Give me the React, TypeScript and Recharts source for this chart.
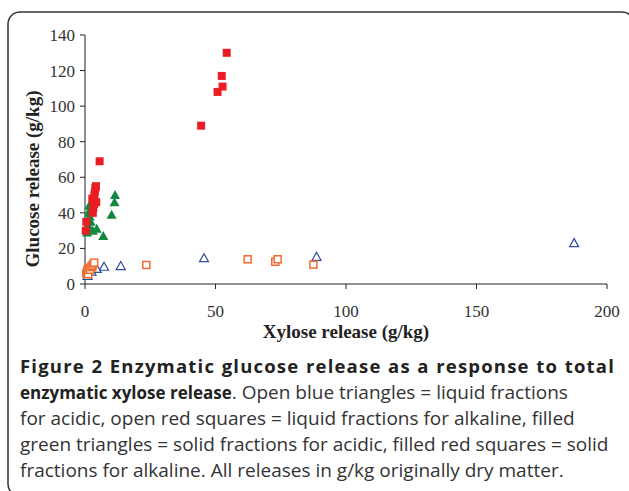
import { ScatterChart, Scatter, XAxis, YAxis } from 'recharts';

// liquid fractions, acidic (open blue triangles)
const liquidAcidX = [1, 2.5, 4.5, 7.3, 13.7, 45.6, 88.7, 187.4];
const liquidAcidY = [4.5, 7, 8.5, 9.7, 10.1, 14.5, 15.3, 23];

// liquid fractions, alkaline (open red squares)
const liquidAlkX = [0.5, 0.8, 1.2, 1, 1.5, 2, 2.8, 2.5, 3, 3.5, 23.5, 62.3, 72.9, 73.8, 87.5];
const liquidAlkY = [6, 7, 5.5, 8, 9, 8, 9.5, 10, 11, 12, 10.7, 13.9, 12.5, 13.9, 10.9];

// solid fractions, acidic (filled green triangles)
const solidAcidX = [0.8, 1, 1.2, 1.5, 1.8, 1.5, 2, 1.6, 2.2, 3, 4.5, 7, 10.2, 11.3, 11.5];
const solidAcidY = [29, 31, 33, 36, 38, 40, 42, 44, 35, 30, 31, 27, 39, 46, 50];

// solid fractions, alkaline (filled red squares)
const solidAlkX = [0.3, 0.5, 3, 3.2, 3.5, 2.8, 3.6, 4.3, 3.8, 4, 4.2, 5.6, 44.5, 50.8, 52.7, 52.4, 54.3];
const solidAlkY = [30, 35, 40, 43, 45, 48, 50, 46, 52, 54, 55, 69, 89, 108, 111, 117, 130];

const xTicks = [0, 50, 100, 150, 200];
const yTicks = [0, 20, 40, 60, 80, 100, 120, 140];

const toPoints = (xs: number[], ys: number[]) => xs.map((x, i) => ({ x, y: ys[i] }));

const BLUE = '#2f4b9c';
const ORANGE = '#f26a2e';
const GREEN = '#11873f';
const RED = '#ec1c24';

const OpenTriangle = ({ cx, cy }: any) => (
  <path d={`M${cx},${cy - 4.5} L${cx + 4.5},${cy + 3.5} L${cx - 4.5},${cy + 3.5} Z`} fill="#fff" stroke={BLUE} strokeWidth={1.2} />
);
const FilledTriangle = ({ cx, cy }: any) => (
  <path d={`M${cx},${cy - 5} L${cx + 5},${cy + 4} L${cx - 5},${cy + 4} Z`} fill={GREEN} />
);
const OpenSquare = ({ cx, cy }: any) => (
  <rect x={cx - 3.5} y={cy - 3.5} width={7} height={7} fill="#fff" stroke={ORANGE} strokeWidth={1.5} />
);
const FilledSquare = ({ cx, cy }: any) => (
  <rect x={cx - 4} y={cy - 4} width={8} height={8} fill={RED} />
);

const serif = '"Liberation Serif", serif';
const tickStyle = { fontFamily: serif, fontSize: 17, fill: '#333' };
const titleStyle = { fontFamily: serif, fontSize: 19, fontWeight: 'bold', fill: '#222' };

const YTitle = () => (
  <text x={32} y={179} transform="rotate(-90, 32, 179)" textAnchor="middle" dominantBaseline="central" style={titleStyle}>
    Glucose release (g/kg)
  </text>
);
const XTitle = ({ viewBox }: any) => (
  <text x={viewBox.x + viewBox.width / 2} y={331} textAnchor="middle" dominantBaseline="central" style={titleStyle}>
    Xylose release (g/kg)
  </text>
);

const captionLine = { whiteSpace: 'nowrap' as const, height: 26 };
const boldText = { fontWeight: 'bold' as const, fontSize: 17, color: '#222' };

export default function App() {
  return (
    <div style={{ position: 'absolute', left: 0, top: 0, width: 629, height: 491, overflow: 'hidden', background: '#fff' }}>
      <svg width={629} height={491} style={{ position: 'absolute', left: 0, top: 0 }}>
        <rect x={8} y={12} width={626} height={484} rx={12} fill="none" stroke="#333" strokeWidth={1.5} />
      </svg>
      <div style={{ position: 'absolute', left: 0, top: 0 }}>
        <ScatterChart width={629} height={345} margin={{ top: 35, right: 22, left: 0, bottom: 11 }}>
          <XAxis type="number" dataKey="x" domain={[0, 200]} ticks={xTicks} tick={tickStyle}
            stroke="#222" tickLine={{ stroke: '#222' }} tickSize={5} tickMargin={16} height={50}
            label={{ content: <XTitle /> }} />
          <YAxis type="number" dataKey="y" domain={[0, 140]} ticks={yTicks} tick={tickStyle}
            stroke="#222" tickLine={{ stroke: '#222' }} tickSize={5} tickMargin={5} width={85}
            label={{ content: <YTitle /> }} />
          <Scatter data={toPoints(solidAcidX, solidAcidY)} shape={<FilledTriangle />} isAnimationActive={false} />
          <Scatter data={toPoints(solidAlkX, solidAlkY)} shape={<FilledSquare />} isAnimationActive={false} />
          <Scatter data={toPoints(liquidAcidX, liquidAcidY)} shape={<OpenTriangle />} isAnimationActive={false} />
          <Scatter data={toPoints(liquidAlkX, liquidAlkY)} shape={<OpenSquare />} isAnimationActive={false} />
        </ScatterChart>
      </div>
      <div style={{ position: 'absolute', left: 20, top: 353, width: 595, fontFamily: '"Open Sans", sans-serif', fontSize: 19, lineHeight: '26px', color: '#333' }}>
        <div style={{ ...captionLine, ...boldText, fontSize: 18.5, letterSpacing: 1.2, textAlign: 'justify', textAlignLast: 'justify' }}>
          Figure 2 Enzymatic glucose release as a response to total
        </div>
        <div style={captionLine}>
          <span style={boldText}>enzymatic xylose release</span>. Open blue triangles = liquid fractions
        </div>
        <div style={captionLine}>for acidic, open red squares = liquid fractions for alkaline, filled</div>
        <div style={captionLine}>green triangles = solid fractions for acidic, filled red squares = solid</div>
        <div style={captionLine}>fractions for alkaline. All releases in g/kg originally dry matter.</div>
      </div>
    </div>
  );
}
